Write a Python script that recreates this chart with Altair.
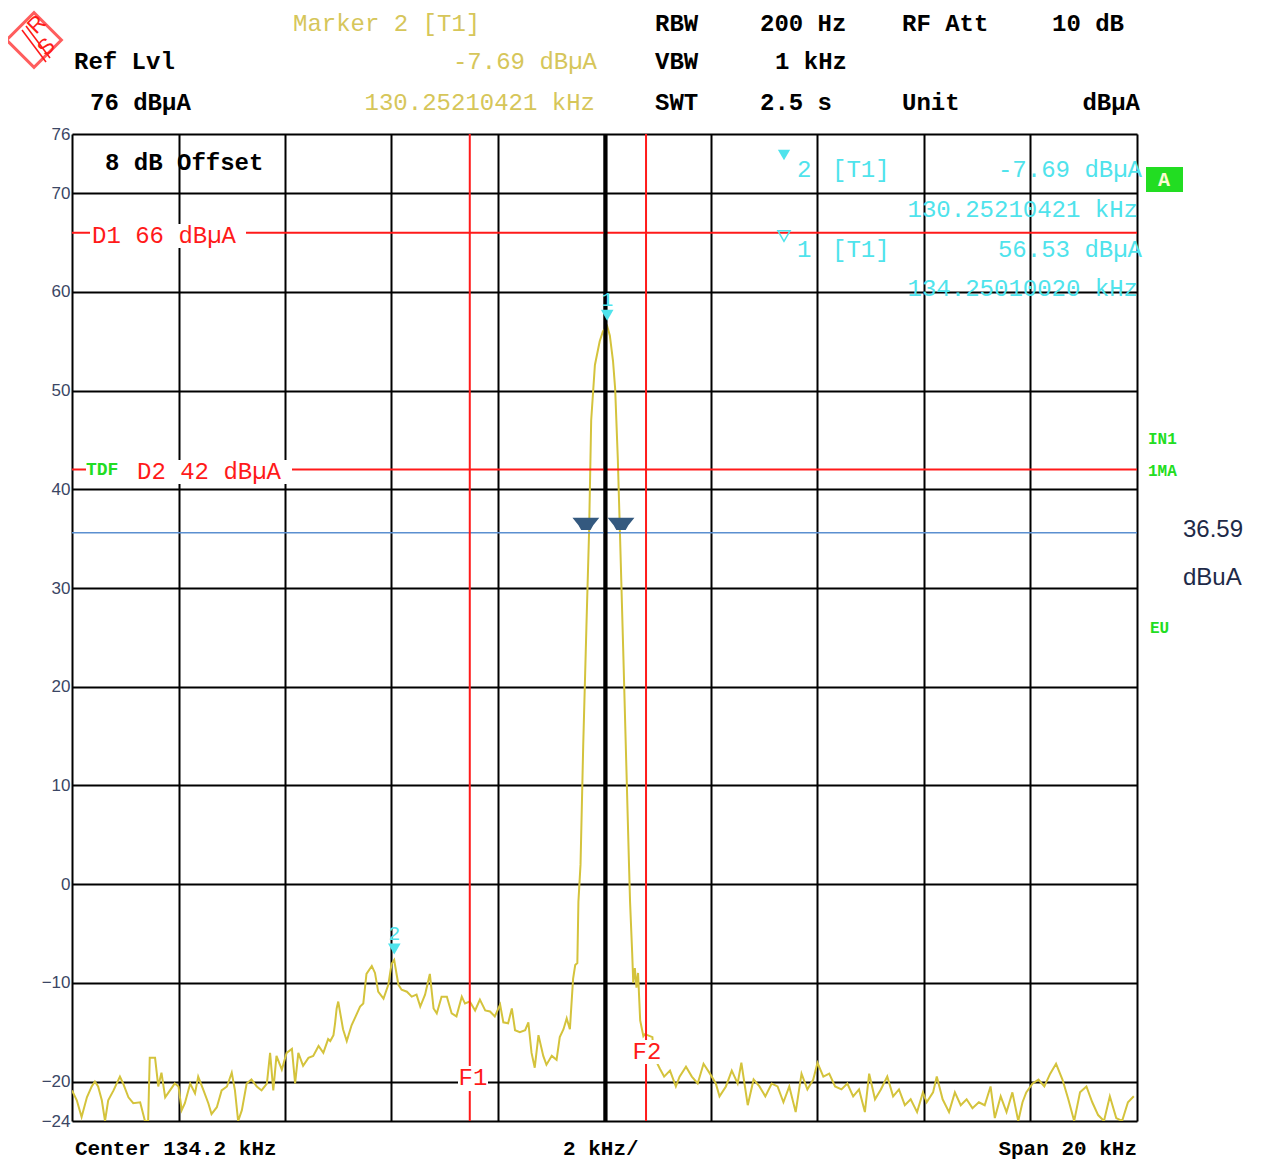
import altair as alt
import pandas as pd

# ---------------- data ----------------
freq_khz = [
    124.20, 124.29, 124.38, 124.48, 124.57, 124.63, 124.69, 124.76, 124.82, 124.88,
    124.98, 125.10, 125.16, 125.26, 125.35, 125.48, 125.57, 125.63, 125.66, 125.76,
    125.82, 125.88, 125.95, 126.04, 126.13, 126.20, 126.26, 126.32, 126.42, 126.51,
    126.57, 126.67, 126.76, 126.82, 126.92, 127.01, 127.11, 127.20, 127.26, 127.32,
    127.39, 127.48, 127.57, 127.67, 127.76, 127.86, 127.92, 127.98, 128.04, 128.14,
    128.23, 128.33, 128.39, 128.45, 128.54, 128.64, 128.73, 128.83, 128.92, 129.01,
    129.05, 129.11, 129.14, 129.17, 129.20, 129.29, 129.36, 129.45, 129.51, 129.61,
    129.67, 129.73, 129.83, 129.89, 129.95, 130.05, 130.14, 130.20, 130.25, 130.33,
    130.39, 130.49, 130.58, 130.67, 130.74, 130.83, 130.92, 130.99, 131.05, 131.14,
    131.24, 131.33, 131.42, 131.52, 131.58, 131.67, 131.77, 131.86, 131.96, 132.05,
    132.14, 132.24, 132.30, 132.39, 132.46, 132.52, 132.61, 132.71, 132.77, 132.83,
    132.89, 132.96, 133.05, 133.11, 133.21, 133.30, 133.36, 133.43, 133.49, 133.55,
    133.61, 133.65, 133.69, 133.71, 133.75, 133.80, 133.86, 133.91, 133.95, 134.02,
    134.11, 134.17, 134.25, 134.30, 134.36, 134.40, 134.45, 134.49, 134.55, 134.61,
    134.66, 134.68, 134.72, 134.74, 134.77, 134.80, 134.83, 134.87, 134.93, 134.96,
    135.10, 135.12, 135.24, 135.32, 135.43, 135.54, 135.61, 135.73, 135.84, 135.95,
    136.06, 136.18, 136.29, 136.36, 136.48, 136.59, 136.70, 136.77, 136.89, 137.00,
    137.11, 137.22, 137.34, 137.45, 137.56, 137.67, 137.79, 137.90, 138.01, 138.12,
    138.20, 138.31, 138.42, 138.53, 138.65, 138.76, 138.87, 138.98, 139.09, 139.17,
    139.28, 139.39, 139.51, 139.62, 139.73, 139.84, 139.95, 140.07, 140.18, 140.25,
    140.37, 140.44, 140.55, 140.67, 140.78, 140.89, 141.00, 141.11, 141.23, 141.34,
    141.45, 141.53, 141.64, 141.75, 141.86, 141.97, 142.05, 142.12, 142.24, 142.35,
    142.46, 142.57, 142.68, 142.80, 142.91, 143.02, 143.13, 143.25, 143.36, 143.47,
    143.58, 143.69, 143.81, 143.92, 144.03, 144.14,
]
level_dbua = [
    -20.9, -21.9, -23.6, -21.6, -20.5, -20.0, -20.5, -21.9, -24.0, -21.9,
    -20.9, -19.5, -20.2, -21.6, -22.2, -22.1, -24.0, -24.0, -17.6, -17.6,
    -20.5, -19.1, -21.6, -20.9, -20.2, -20.5, -22.9, -22.2, -20.2, -21.2,
    -19.5, -20.9, -22.2, -23.3, -22.6, -20.9, -20.5, -19.1, -20.9, -24.0,
    -22.9, -20.2, -19.8, -20.5, -20.9, -20.2, -17.1, -20.9, -17.4, -18.8,
    -17.1, -16.7, -20.2, -17.1, -18.4, -17.6, -17.4, -16.4, -17.1, -15.7,
    -15.9, -15.3, -14.1, -12.6, -11.9, -14.7, -15.9, -14.3, -13.6, -12.4,
    -12.1, -9.1, -8.3, -9.0, -10.9, -11.6, -10.2, -8.1, -7.69, -10.2,
    -10.7, -10.9, -11.4, -11.2, -12.4, -11.2, -9.1, -12.6, -13.1, -11.4,
    -11.4, -13.1, -13.4, -11.4, -12.1, -11.9, -12.8, -11.7, -12.8, -12.9,
    -13.4, -12.2, -14.0, -14.1, -12.6, -14.8, -15.0, -14.8, -14.0, -17.1,
    -18.6, -15.3, -17.4, -18.3, -17.4, -17.8, -15.5, -14.7, -13.6, -14.7,
    -9.6, -8.2, -8.0, -1.8, 2.0, 14.0, 26.0, 35.6, 47.0, 52.6,
    55.0, 56.0, 56.53, 55.6, 53.0, 50.2, 43.1, 35.6, 24.0, 12.0,
    2.0, -1.8, -7.0, -10.0, -8.5, -10.5, -9.0, -13.8, -15.4, -15.2,
    -15.5, -17.4, -18.7, -19.5, -18.9, -20.5, -19.5, -18.5, -19.5, -20.2,
    -18.2, -19.2, -20.2, -21.5, -20.5, -18.9, -20.2, -18.1, -22.4, -19.8,
    -20.5, -21.5, -20.2, -20.5, -22.1, -20.5, -23.1, -19.2, -20.8, -19.8,
    -18.1, -19.5, -19.2, -20.5, -20.8, -20.2, -21.5, -20.8, -23.1, -19.2,
    -21.8, -20.8, -19.5, -21.5, -20.8, -22.4, -21.8, -23.1, -21.1, -22.1,
    -21.1, -19.5, -21.8, -23.1, -21.1, -22.4, -21.8, -22.7, -22.1, -22.4,
    -20.5, -23.7, -21.5, -23.1, -21.1, -24.0, -22.1, -21.1, -20.2, -19.8,
    -20.5, -19.2, -18.2, -19.8, -21.8, -24.0, -21.1, -20.5, -22.1, -23.4,
    -24.0, -21.5, -23.7, -24.0, -22.1, -21.5,
]

F_MIN, F_MAX = 124.2, 144.2          # Center 134.2 kHz, Span 20 kHz
Y_MIN, Y_MAX = -24, 76               # Ref Lvl 76 dBuA, 100 dB range
x_grid = [124.2, 126.2, 128.2, 130.2, 132.2, 134.2, 136.2, 138.2, 140.2, 142.2, 144.2]
y_ticks = [76, 70, 60, 50, 40, 30, 20, 10, 0, -10, -20, -24]
display_lines = [66, 42]             # D1, D2
ndb_line_level = 35.6                # drawn display line
ndb_marker_freqs = [133.85, 134.51]
ndb_marker_level = 36.5
freq_lines = [131.67, 134.98]        # F1, F2
center_line = 134.22
marker_freqs = [134.2501, 130.2521]
marker_levels = [56.53, -7.69]

# ---------------- styling ----------------
W, H = 1065, 987
LEFT, TOP = 72, 134                  # page position of the plot area
MONO = "Liberation Mono"
SANS = "Liberation Sans"
YELLOW_TXT = "#d6c65a"
TRACE = "#d4c33c"
RED = "#ff1a1a"
CYAN = "#4fe3ec"
GREEN = "#22dd22"

xs = alt.Scale(domain=[F_MIN, F_MAX], nice=False, zero=False)
ys = alt.Scale(domain=[Y_MIN, Y_MAX], nice=False, zero=False)


def px(x):
    return x - LEFT


def py(y):
    return y - TOP


def txt(s, x, y, color="black", size=24, align="left", font=MONO, weight="normal", angle=0):
    kw = dict(align=align, baseline="middle", font=font, fontSize=size,
              fontWeight=weight, color=color)
    if angle:
        kw["angle"] = angle
    return alt.Chart(pd.DataFrame({"t": [s]})).mark_text(**kw).encode(
        x=alt.value(px(x)), y=alt.value(py(y)), text="t:N")


def box(x1, y1, x2, y2, color="white"):
    return alt.Chart(pd.DataFrame({"a": [0]})).mark_rect(color=color).encode(
        x=alt.value(px(x1)), x2=alt.value(px(x2)), y=alt.value(py(y1)), y2=alt.value(py(y2)))


def seg(x1, y1, x2, y2, color, width=2):
    return alt.Chart(pd.DataFrame({"a": [0]})).mark_rule(color=color, strokeWidth=width).encode(
        x=alt.value(px(x1)), x2=alt.value(px(x2)), y=alt.value(py(y1)), y2=alt.value(py(y2)))


trace_df = pd.DataFrame({"f": freq_khz, "l": level_dbua})

trace = alt.Chart(trace_df).mark_line(color=TRACE, strokeWidth=2, clip=True).encode(
    x=alt.X("f:Q", scale=xs, axis=alt.Axis(values=x_grid, grid=True, labels=False, ticks=False,
                                           domain=False, title=None, gridColor="black",
                                           gridWidth=2, gridOpacity=1)),
    y=alt.Y("l:Q", scale=ys, axis=alt.Axis(values=y_ticks, grid=True, ticks=False, domain=False,
                                           title=None, gridColor="black", gridWidth=2,
                                           gridOpacity=1, labelFont=SANS, labelFontSize=17,
                                           labelColor="#3b4664", labelPadding=2)),
)

hlines = alt.Chart(pd.DataFrame({"l": display_lines})).mark_rule(color=RED, strokeWidth=2).encode(
    y=alt.Y("l:Q", scale=ys))
ndb_line = alt.Chart(pd.DataFrame({"l": [ndb_line_level]})).mark_rule(
    color="#5b8fd0", strokeWidth=1.5).encode(y=alt.Y("l:Q", scale=ys))
vlines = alt.Chart(pd.DataFrame({"f": freq_lines})).mark_rule(color=RED, strokeWidth=2).encode(
    x=alt.X("f:Q", scale=xs))
cline = alt.Chart(pd.DataFrame({"f": [center_line]})).mark_rule(color="black", strokeWidth=4).encode(
    x=alt.X("f:Q", scale=xs))

TRAPEZOID = "M-1,-0.45 L1,-0.45 L0.55,0.1 L0.35,0.45 L-0.35,0.45 L-0.55,0.1 Z"
ndb_marks = alt.Chart(pd.DataFrame({"f": ndb_marker_freqs, "l": [ndb_marker_level] * 2})).mark_point(
    shape=TRAPEZOID, filled=True, color="#34597f", size=720, opacity=1).encode(
    x=alt.X("f:Q", scale=xs), y=alt.Y("l:Q", scale=ys))

mk_df = pd.DataFrame({"f": marker_freqs, "l": marker_levels, "n": ["1", "2"]})
mk_tri = alt.Chart(mk_df).mark_point(shape="triangle-down", filled=True, color=CYAN, size=160,
                                     opacity=1, yOffset=-11).encode(
    x=alt.X("f:Q", scale=xs), y=alt.Y("l:Q", scale=ys))
mk_num = alt.Chart(mk_df).mark_text(color=CYAN, font=MONO, fontSize=20, dy=-26).encode(
    x=alt.X("f:Q", scale=xs), y=alt.Y("l:Q", scale=ys), text="n:N")

layers = [trace, hlines, ndb_line, vlines, cline, ndb_marks, mk_tri, mk_num]

# white gaps behind labels on lines
layers += [box(90, 224, 246, 248), box(86, 460, 292, 484), box(458, 1066, 488, 1091),
           box(632, 1040, 662, 1064)]

# header
layers += [
    txt("Marker 2 [T1]", 293, 24, YELLOW_TXT),
    txt("Ref Lvl", 74, 62, weight="bold"),
    txt("-7.69 dBµA", 597, 62, YELLOW_TXT, align="right"),
    txt("76 dBµA", 90, 103, weight="bold"),
    txt("130.25210421 kHz", 595, 103, YELLOW_TXT, align="right"),
    txt("RBW", 655, 24, weight="bold"), txt("200 Hz", 760, 24, weight="bold"),
    txt("RF Att", 902, 24, weight="bold"), txt("10 dB", 1052, 24, weight="bold"),
    txt("VBW", 655, 62, weight="bold"), txt("1 kHz", 775, 62, weight="bold"),
    txt("SWT", 655, 103, weight="bold"), txt("2.5 s", 760, 103, weight="bold"),
    txt("Unit", 902, 103, weight="bold"), txt("dBµA", 1140, 103, align="right", weight="bold"),
]

# logo
logo = alt.Chart(pd.DataFrame({"a": [0]})).mark_point(
    shape="diamond", filled=False, color=RED, strokeWidth=3, size=3000).encode(
    x=alt.value(px(34)), y=alt.value(py(40)))
layers += [logo,
           seg(22, 30, 46, 62, RED, 1.5), seg(26, 26, 50, 58, RED, 1.5),
           txt("R", 31, 30, RED, size=22, font=SANS, angle=315),
           txt("S", 41, 52, RED, size=22, font=SANS, angle=315)]

# inside plot
layers += [
    txt("8 dB Offset", 105, 163, weight="bold"),
    alt.Chart(pd.DataFrame({"a": [0]})).mark_point(shape="triangle-down", filled=True, color=CYAN,
                                                   size=150, opacity=1).encode(
        x=alt.value(px(784)), y=alt.value(py(155))),
    alt.Chart(pd.DataFrame({"a": [0]})).mark_point(shape="triangle-down", filled=False, color=CYAN,
                                                   size=150, strokeWidth=1.5, opacity=1).encode(
        x=alt.value(px(784)), y=alt.value(py(236))),
    txt("2", 797, 170, CYAN), txt("[T1]", 832, 170, CYAN),
    txt("-7.69 dBµA", 1142, 170, CYAN, align="right"),
    txt("130.25210421 kHz", 1138, 210, CYAN, align="right"),
    txt("1", 797, 250, CYAN), txt("[T1]", 832, 250, CYAN),
    txt("56.53 dBµA", 1142, 250, CYAN, align="right"),
    txt("134.25010020 kHz", 1138, 289, CYAN, align="right"),
    txt("D1 66 dBµA", 92, 236, RED),
    txt("D2 42 dBµA", 137, 472, RED),
    txt("TDF", 86, 470, GREEN, size=18, weight="bold"),
    txt("F1", 473, 1078, RED, align="center"),
    txt("F2", 647, 1052, RED, align="center"),
    box(1146, 167, 1183, 192, GREEN),
    txt("A", 1164, 180, "#fbfbd0", size=20, align="center", weight="bold"),
    txt("IN1", 1148, 439, GREEN, size=16, weight="bold"),
    txt("1MA", 1148, 471, GREEN, size=16, weight="bold"),
    txt("EU", 1150, 628, GREEN, size=16, weight="bold"),
    txt("36.59", 1183, 530, "#1e2a48", size=24, font=SANS),
    txt("dBuA", 1183, 578, "#1e2a48", size=24, font=SANS),
    txt("Center 134.2 kHz", 75, 1149, size=21, weight="bold"),
    txt("2 kHz/", 563, 1149, size=21, weight="bold"),
    txt("Span 20 kHz", 1137, 1149, size=21, align="right", weight="bold"),
]

chart = alt.layer(*layers).properties(
    width=W, height=H,
    autosize=alt.AutoSizeParams(type="none"),
    padding={"left": 64, "top": 126, "right": 115, "bottom": 42},
).configure_view(stroke="black", strokeWidth=3).configure(background="white")

chart.save("out.html", embed_options={"renderer": "svg", "actions": False})
